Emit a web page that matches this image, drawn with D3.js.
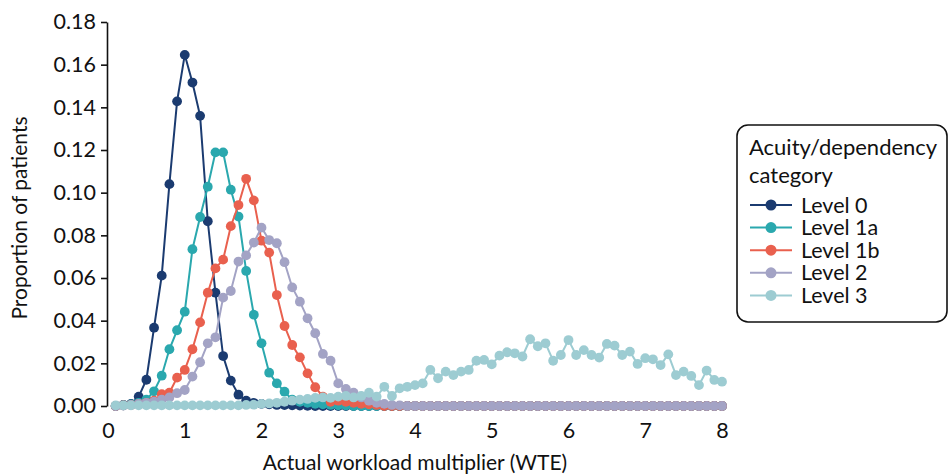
<!DOCTYPE html>
<html>
<head>
<meta charset="utf-8">
<script src="https://cdn.jsdelivr.net/npm/d3@7"></script>
<style>
  body { margin: 0; background: #fff; }
  text { font-family: Lato, "Open Sans", sans-serif; fill: #111; }
</style>
</head>
<body>
<div id="chart"></div>
<script>

// workload multiplier grid, 0.1 steps from 0.1 to 8.0
const xs = d3.range(1, 81).map(i => i / 10);

const level0 = [0, 0.0005, 0.001, 0.0044, 0.0123, 0.0367, 0.0611, 0.104, 0.1428, 0.1646,
  0.1516, 0.136, 0.0866, 0.0531, 0.0234, 0.0119, 0.0053, 0.0025, 0.0015, 0.001,
  0.0008, 0.0005, 0.0004, 0.0003, 0.0002, 0.0001, 0, 0, 0, 0,
  0, 0, 0, 0, 0, 0, 0, 0, 0, 0,
  0, 0, 0, 0, 0, 0, 0, 0, 0, 0,
  0, 0, 0, 0, 0, 0, 0, 0, 0, 0,
  0, 0, 0, 0, 0, 0, 0, 0, 0, 0,
  0, 0, 0, 0, 0, 0, 0, 0, 0, 0];

const level1a = [0, 0.0003, 0.0008, 0.0015, 0.003, 0.0069, 0.0142, 0.0266, 0.0355, 0.0442,
  0.0735, 0.0886, 0.1028, 0.1189, 0.1189, 0.1014, 0.0888, 0.0633, 0.0428, 0.0294,
  0.0156, 0.0106, 0.0067, 0.003, 0.002, 0.0015, 0.001, 0.0008, 0.0005, 0.0003,
  0.0002, 0, 0, 0, 0, 0, 0, 0, 0, 0,
  0, 0, 0, 0, 0, 0, 0, 0, 0, 0,
  0, 0, 0, 0, 0, 0, 0, 0, 0, 0,
  0, 0, 0, 0, 0, 0, 0, 0, 0, 0,
  0, 0, 0, 0, 0, 0, 0, 0, 0, 0];

const level1b = [0, 0.0003, 0.0005, 0.001, 0.0015, 0.0025, 0.0055, 0.0062, 0.0133, 0.0169,
  0.0266, 0.0392, 0.0531, 0.0645, 0.0686, 0.0843, 0.0942, 0.1065, 0.0964, 0.0775,
  0.0719, 0.052, 0.0375, 0.0286, 0.0228, 0.0153, 0.0088, 0.0044, 0.002, 0.0025,
  0.002, 0.0015, 0.001, 0.0008, 0.0005, 0, 0, 0, 0, 0,
  0, 0, 0, 0, 0, 0, 0, 0, 0, 0,
  0, 0, 0, 0, 0, 0, 0, 0, 0, 0,
  0, 0, 0, 0, 0, 0, 0, 0, 0, 0,
  0, 0, 0, 0, 0, 0, 0, 0, 0, 0];

const level2 = [0, 0.0002, 0.0005, 0.001, 0.0015, 0.002, 0.003, 0.004, 0.006, 0.0075,
  0.0138, 0.0205, 0.0294, 0.0322, 0.0508, 0.0539, 0.0677, 0.0706, 0.0766, 0.0836,
  0.0778, 0.0763, 0.0674, 0.0556, 0.0489, 0.0411, 0.0341, 0.0244, 0.0212, 0.0106,
  0.008, 0.0062, 0.004, 0.0025, 0.0015, 0.001, 0.0005, 0.0003, 0, 0,
  0, 0, 0, 0, 0, 0, 0, 0, 0, 0,
  0, 0, 0, 0, 0, 0, 0, 0, 0, 0,
  0, 0, 0, 0, 0, 0, 0, 0, 0, 0,
  0, 0, 0, 0, 0, 0, 0, 0, 0, 0];

const level3 = [0.0003, 0.0003, 0.0003, 0.0003, 0.0003, 0.0003, 0.0003, 0.0003, 0.0003, 0.0003,
  0.0003, 0.0003, 0.0003, 0.0003, 0.0003, 0.0003, 0.0003, 0.0005, 0.0006, 0.001,
  0.0012, 0.0015, 0.002, 0.0025, 0.003, 0.0033, 0.0038, 0.004, 0.0038, 0.0044,
  0.0047, 0.004, 0.0047, 0.0062, 0.0044, 0.009, 0.0047, 0.0083, 0.009, 0.0098,
  0.0106, 0.0169, 0.013, 0.0161, 0.0145, 0.0161, 0.0169, 0.0212, 0.0216, 0.0195,
  0.0236, 0.0252, 0.0247, 0.0232, 0.0313, 0.028, 0.0294, 0.0212, 0.0239, 0.0309,
  0.0239, 0.0262, 0.0239, 0.0227, 0.0291, 0.0283, 0.0239, 0.0255, 0.0197, 0.0224,
  0.0219, 0.0192, 0.0242, 0.0145, 0.0161, 0.0141, 0.0098, 0.0166, 0.0122, 0.0114];

const seriesNames = ["Level 0", "Level 1a", "Level 1b", "Level 2", "Level 3"];
const seriesValues = [level0, level1a, level1b, level2, level3];
const seriesColors = ["#1b3b70", "#2aa8ae", "#e9604e", "#a3a3c5", "#9dccd2"];

const xTicks = [0, 1, 2, 3, 4, 5, 6, 7, 8];
const yTicks = [0, 0.02, 0.04, 0.06, 0.08, 0.10, 0.12, 0.14, 0.16, 0.18];

const width = 950;
const height = 474;

const svg = d3.select("#chart").append("svg")
  .attr("width", width)
  .attr("height", height);

const x = d3.scaleLinear().domain([0, 8]).range([108, 722]);
const y = d3.scaleLinear().domain([0, 0.18]).range([406, 22]);

// y axis
const yAxis = svg.append("g")
  .attr("transform", "translate(107,0)")
  .call(d3.axisLeft(y).tickValues(yTicks).tickFormat(d3.format(".2f")).tickSize(6).tickSizeOuter(0));
yAxis.select(".domain").attr("stroke", "#111").attr("stroke-width", 1.6);
yAxis.selectAll(".tick line").attr("stroke", "#111").attr("stroke-width", 1.6);
yAxis.selectAll(".tick text")
  .attr("x", -11)
  .style("font-family", "Lato, sans-serif")
  .style("font-size", "21.5px")
  .attr("fill", "#111");

// x axis: labels only
const xAxis = svg.append("g")
  .attr("transform", "translate(0,406)")
  .call(d3.axisBottom(x).tickValues(xTicks).tickSize(0));
xAxis.select(".domain").remove();
xAxis.selectAll(".tick text")
  .attr("y", 17)
  .style("font-family", "Lato, sans-serif")
  .style("font-size", "21.5px")
  .attr("fill", "#111");

svg.append("text")
  .attr("x", 415)
  .attr("y", 470)
  .attr("text-anchor", "middle")
  .style("font-size", "21px")
  .text("Actual workload multiplier (WTE)");

svg.append("text")
  .attr("transform", "translate(27,218) rotate(-90)")
  .attr("text-anchor", "middle")
  .style("font-size", "21px")
  .text("Proportion of patients");

const line = d3.line()
  .x(d => x(d[0]))
  .y(d => y(d[1]));

seriesValues.forEach(function (vals, i) {
  const pts = xs.map((v, j) => [v, vals[j]]);
  const g = svg.append("g").attr("class", "series");
  g.append("path")
    .datum(pts)
    .attr("d", line)
    .attr("fill", "none")
    .attr("stroke", seriesColors[i])
    .attr("stroke-width", 2);
  g.selectAll("circle")
    .data(pts)
    .enter()
    .append("circle")
    .attr("cx", d => x(d[0]))
    .attr("cy", d => y(d[1]))
    .attr("r", 4.9)
    .attr("fill", seriesColors[i]);
});

// legend
const legend = svg.append("g").attr("transform", "translate(737,125)");
legend.append("rect")
  .attr("width", 210)
  .attr("height", 197)
  .attr("rx", 11)
  .attr("fill", "#fff")
  .attr("stroke", "#111")
  .attr("stroke-width", 1.6);
legend.append("text").attr("x", 12).attr("y", 30).style("font-size", "22px").text("Acuity/dependency");
legend.append("text").attr("x", 12).attr("y", 58).style("font-size", "22px").text("category");

seriesNames.forEach(function (name, i) {
  const cy = 80 + i * 22.6;
  legend.append("line")
    .attr("x1", 13).attr("x2", 55)
    .attr("y1", cy).attr("y2", cy)
    .attr("stroke", seriesColors[i])
    .attr("stroke-width", 2);
  legend.append("circle")
    .attr("cx", 34).attr("cy", cy).attr("r", 5.5)
    .attr("fill", seriesColors[i]);
  legend.append("text")
    .attr("x", 64).attr("y", cy + 7.5)
    .style("font-size", "21.5px")
    .text(name);
});

</script>
</body>
</html>
